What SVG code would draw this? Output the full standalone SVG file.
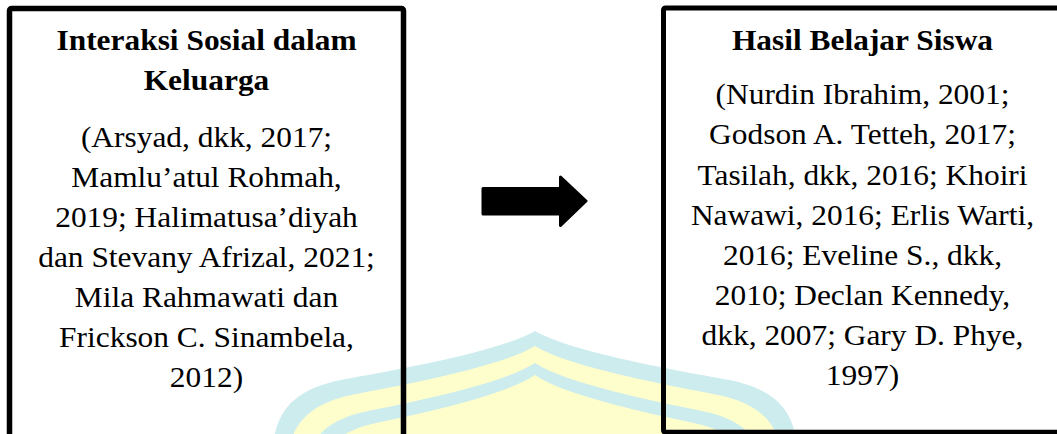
<svg xmlns="http://www.w3.org/2000/svg" width="1057" height="434" viewBox="0 0 1057 434">
<style>
.box{fill:none;stroke:#000;stroke-linejoin:round}
.t{font-family:"Liberation Serif","Times New Roman",serif;font-size:30px;fill:#000;text-anchor:middle}
.b{font-weight:bold}
.cy{fill:#cdecee}
.ye{fill:#fefdcc}
</style>
<defs>
<path id="dome" d="M275,434 C281,405 301,388 341,380 C401,369 498,352 535,331 C572,352 669,369 729,380 C769,388 789,405 795,434 L795,480 L275,480 Z"/>
</defs>
<rect width="1057" height="434" fill="#fff"/>
<g id="watermark">
<use href="#dome" class="cy"/>
<use href="#dome" class="ye" transform="translate(535,15) scale(0.946,1) translate(-535,0)"/>
<use href="#dome" class="cy" transform="translate(535,32) scale(0.884,1) translate(-535,0)"/>
<use href="#dome" class="ye" transform="translate(535,44) scale(0.841,1) translate(-535,0)"/>
</g>
<g id="connectors">
<path d="M483,188.5 L560.5,188.5 L560.5,177 L586,201 L560.5,225.5 L560.5,214 L483,214 Z" fill="#000" stroke="#000" stroke-width="3" stroke-linejoin="round"/>
</g>
<g id="node-interaksi">
<rect class="box" x="9.5" y="8.5" width="394" height="470" rx="2" stroke-width="5.5"/>
<g transform="translate(206.5,0) scale(1.047,1)">
<text class="t b" x="0" y="50">Interaksi Sosial dalam</text>
<text class="t b" x="0" y="90">Keluarga</text>
<text class="t" x="0" y="147">(Arsyad, dkk, 2017;</text>
<text class="t" x="0" y="187">Mamlu’atul Rohmah,</text>
<text class="t" x="0" y="227">2019; Halimatusa’diyah</text>
<text class="t" x="0" y="267">dan Stevany Afrizal, 2021;</text>
<text class="t" x="0" y="307">Mila Rahmawati dan</text>
<text class="t" x="0" y="347">Frickson C. Sinambela,</text>
<text class="t" x="0" y="387">2012)</text>
</g>
</g>
<g id="node-hasil">
<rect class="box" x="663.5" y="8" width="398" height="424.3" rx="2" stroke-width="5"/>
<g transform="translate(862.5,0) scale(1.047,1)">
<text class="t b" x="0" y="50">Hasil Belajar Siswa</text>
<text class="t" x="0" y="104">(Nurdin Ibrahim, 2001;</text>
<text class="t" x="0" y="144">Godson A. Tetteh, 2017;</text>
<text class="t" x="0" y="185">Tasilah, dkk, 2016; Khoiri</text>
<text class="t" x="0" y="225">Nawawi, 2016; Erlis Warti,</text>
<text class="t" x="0" y="265">2016; Eveline S., dkk,</text>
<text class="t" x="0" y="305">2010; Declan Kennedy,</text>
<text class="t" x="0" y="345">dkk, 2007; Gary D. Phye,</text>
<text class="t" x="0" y="385">1997)</text>
</g>
</g>
</svg>
